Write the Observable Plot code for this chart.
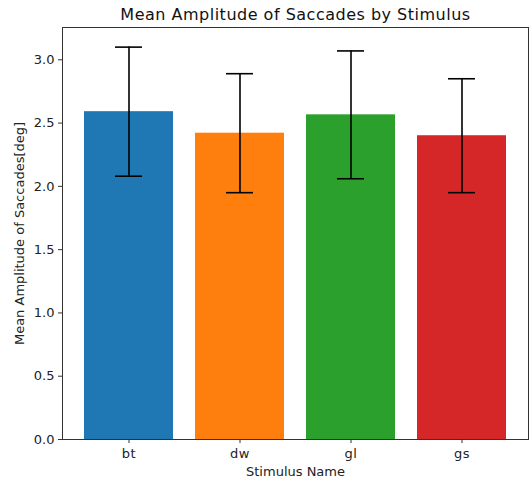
<!DOCTYPE html>
<html>
<head>
<meta charset="utf-8">
<script src="https://cdn.jsdelivr.net/npm/d3@7"></script>
<script src="https://cdn.jsdelivr.net/npm/@observablehq/plot@0.6"></script>
<style>
  html, body { margin: 0; padding: 0; background: #fff; }
  svg { font-family: "DejaVu Sans", sans-serif; }
  .hlabel { letter-spacing: 0.5px; }
</style>
</head>
<body>
<div id="chart"></div>
<script>
const stimuli = ["bt", "dw", "gl", "gs"];
const means = [2.59, 2.42, 2.565, 2.40];
const errors = [0.51, 0.47, 0.505, 0.45];
const colors = ["#1f77b4", "#ff7f0e", "#2ca02c", "#d62728"];
const yTicks = [0, 0.5, 1.0, 1.5, 2.0, 2.5, 3.0];
const title = "Mean Amplitude of Saccades by Stimulus";

const data = stimuli.map((s, i) => ({
  stim: s, mean: means[i], lo: means[i] - errors[i], hi: means[i] + errors[i]
}));

const chart = Plot.plot({
  width: 529,
  height: 481,
  marginTop: 27,
  marginBottom: 42,
  marginLeft: 62,
  marginRight: 1,
  style: { fontFamily: "DejaVu Sans, sans-serif", fontSize: "12px", color: "#222", background: "#fff" },
  x: { domain: stimuli, paddingInner: 0.2, paddingOuter: 0.19 },
  y: { domain: [0, 3.255] },
  color: { domain: stimuli, range: colors },
  marks: [
    Plot.barY(data, { x: "stim", y: "mean", fill: "stim" }),
    Plot.ruleX(data, { x: "stim", y1: "lo", y2: "hi", stroke: "#000", strokeWidth: 1.6 }),
    Plot.tickY(data, { x: "stim", y: "lo", stroke: "#000", strokeWidth: 1.6, insetLeft: 31, insetRight: 31 }),
    Plot.tickY(data, { x: "stim", y: "hi", stroke: "#000", strokeWidth: 1.6, insetLeft: 31, insetRight: 31 }),
    Plot.frame({ stroke: "#333", strokeWidth: 1 }),
    Plot.axisY({ ticks: yTicks, tickFormat: d3.format(".1f"), tickSize: 4, tickPadding: 4,
      label: "Mean Amplitude of Saccades[deg]", labelAnchor: "center", labelArrow: "none", labelOffset: 48,
      fontSize: 13, stroke: "#333" }),
    Plot.axisX({ tickSize: 4, tickPadding: 5, label: "Stimulus Name", labelAnchor: "center", labelArrow: "none",
      labelOffset: 36, fontSize: 13, stroke: "#333", className: "hlabel" }),
    Plot.text([title], { frameAnchor: "top", lineAnchor: "middle", dy: -13, fontSize: 16, fill: "#111", className: "hlabel" })
  ]
});
document.getElementById("chart").appendChild(chart);
</script>
</body>
</html>
